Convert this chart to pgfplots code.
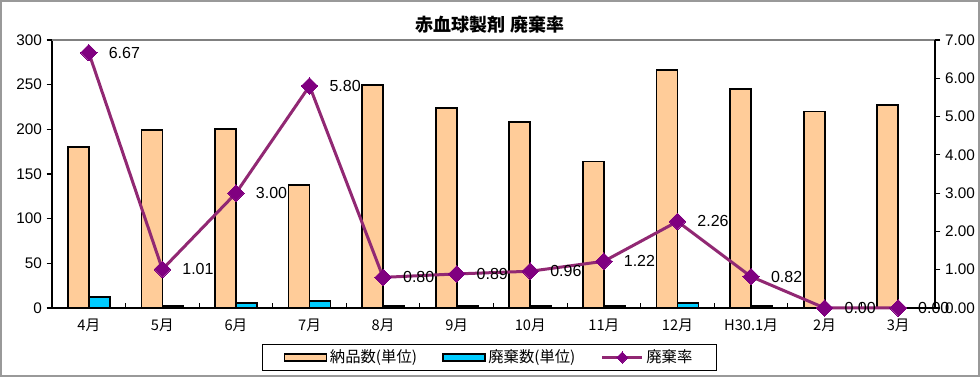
\documentclass[border=0pt]{standalone}
\usepackage{pgfplots}
\pgfplotsset{compat=1.18}
\usepackage{fontspec}
\setmainfont{Liberation Sans}
\newfontfamily\jp{Noto Sans CJK JP}
\definecolor{barorange}{RGB}{255,204,153}
\definecolor{barblue}{RGB}{0,204,255}
\definecolor{rateline}{RGB}{145,40,115}
\definecolor{ratemark}{RGB}{128,0,128}

\pgfplotsset{rateleg/.style={legend image code/.code={\draw[##1, mark size=3pt, mark repeat=2, mark phase=2] plot coordinates {(0pt,0pt) (15pt,0pt) (30pt,0pt)};}}}

\pgfplotstableread{
x  nohin haiki
0  180  12
1  199  2
2  200  6
3  138  8
4  250  2
5  224  2
6  208  2
7  164  2
8  266  6
9  245  2
10 220  0
11 227  0
}\bars

\pgfplotstableread{
x rate
0  6.67
1  1.01
2  3.00
3  5.80
4  0.80
5  0.89
6  0.96
7  1.22
8  2.26
9  0.82
10 0.00
11 0.00
}\rates

\begin{document}
\begin{tikzpicture}[x=0.75pt,y=0.75pt]
\path[use as bounding box] (0,0) rectangle (980,377);
\draw[gray!80, line width=1.5pt] (1,1) rectangle (979,376);
\node[font=\jp\bfseries\fontsize{13.5}{14}\selectfont] at (490,352) {赤血球製剤 廃棄率};

\begin{axis}[
  at={(39pt,51.75pt)}, anchor=south west,
  scale only axis, width=662.25pt, height=201pt,
  xmin=-0.5, xmax=11.5, ymin=0, ymax=300,
  axis x line*=bottom, axis y line*=left,
  axis line style={black, line width=0.8pt},
  ytick={0,50,...,300},
  tick align=outside,
  ytick style={black, line width=0.8pt},
  major tick length=4pt,
  xtick={0.5,1.5,...,10.5}, xticklabels={},
  xtick style={black, line width=0.8pt, yshift=4pt},
  extra x ticks={0,1,...,11},
  extra x tick labels={4月,5月,6月,7月,8月,9月,10月,11月,12月,H30.1月,2月,3月},
  extra x tick style={major tick length=0pt, tick label style={font=\jp\fontsize{11}{11}\selectfont, yshift=-5pt}},
  /pgf/number format/assume math mode=true,
  yticklabel style={font=\fontsize{11.5}{11.5}\selectfont},
  ybar, bar width=0.285,
  clip=false,
]
\addplot[fill=barorange, draw=black, line width=1.3pt, bar shift=-0.1425] table[x=x,y=nohin]{\bars};
\addplot[fill=barblue, draw=black, line width=1.3pt, bar shift=0.1425] table[x=x,y=haiki]{\bars};
\draw[gray, line width=0.8pt] (rel axis cs:0,1) -- (rel axis cs:1,1);
\end{axis}

\begin{axis}[
  at={(39pt,51.75pt)}, anchor=south west,
  scale only axis, width=662.25pt, height=201pt,
  xmin=-0.5, xmax=11.5, ymin=0, ymax=7,
  axis x line=none, axis y line*=right,
  axis line style={black, line width=0.8pt},
  ytick={0,1,...,7},
  tick align=outside,
  major tick length=4pt,
  ytick style={black, line width=0.8pt},
  /pgf/number format/assume math mode=true,
  yticklabel={\pgfmathprintnumber[fixed,zerofill,precision=2]{\tick}},
  yticklabel style={font=\fontsize{11.5}{11.5}\selectfont},
  clip=false,
  legend style={at={(0.4955,-0.1847)}, anchor=center, draw=black, line width=0.8pt,
    font=\jp\fontsize{11.5}{11.5}\selectfont, inner xsep=16pt, inner ysep=2.5pt},
  legend columns=3,
  legend cell align=left,
  /tikz/every even column/.append style={column sep=17pt},
]
\addlegendimage{legend image code/.code={\draw[fill=barorange,draw=black,line width=1pt] (0pt,-2.6pt) rectangle (31.5pt,2.6pt);}}
\addlegendentry{納品数(単位)}
\addlegendimage{legend image code/.code={\draw[fill=barblue,draw=black,line width=1pt] (0pt,-2.6pt) rectangle (31.5pt,2.6pt);}}
\addlegendentry{廃棄数(単位)}
\addplot[color=rateline, line width=2.25pt, mark=square*, mark size=4.4pt,
  mark options={fill=ratemark, draw=ratemark, line width=0pt, rotate=45},
  nodes near coords={\pgfmathprintnumber[fixed,zerofill,precision=2]{\pgfplotspointmeta}},
  every node near coord/.append style={anchor=west, xshift=15pt, inner sep=0pt, text=black, font=\fontsize{12}{12}\selectfont},
  rateleg
] table[x=x,y=rate]{\rates};
\addlegendentry{廃棄率}
\end{axis}
\end{tikzpicture}
\end{document}
